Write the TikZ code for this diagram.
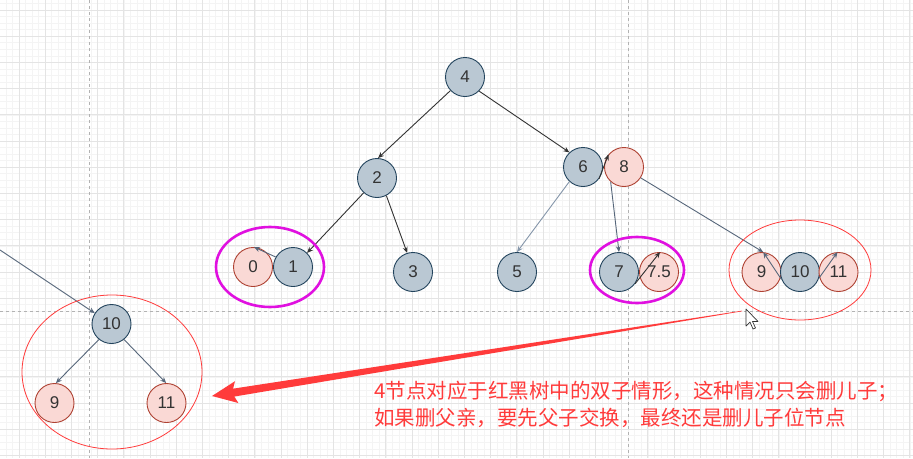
\documentclass[tikz,border=0pt]{standalone}
\usepackage{fontspec}
\setmainfont{Liberation Sans}
\newfontfamily\cjk{Noto Sans CJK SC}
\usetikzlibrary{arrows.meta}
\definecolor{bnode}{HTML}{BAC8D3}
\definecolor{bline}{HTML}{23445D}
\definecolor{rnode}{HTML}{FAD9D5}
\definecolor{rline}{HTML}{AE4132}
\definecolor{mag}{HTML}{E010E0}
\definecolor{redc}{HTML}{FF3B3B}
\definecolor{edgedark}{HTML}{333333}
\definecolor{edgeslate}{HTML}{56667A}
\definecolor{edgelight}{HTML}{8596AA}
\definecolor{minorg}{HTML}{F4F4F4}
\definecolor{majorg}{HTML}{E4E4E4}
\definecolor{txtc}{HTML}{333333}
\tikzset{
  bn/.style={circle, minimum size=39pt, inner sep=0pt, fill=bnode, draw=bline, line width=0.9pt, text=txtc, font=\fontsize{17}{17}\selectfont},
  rn/.style={circle, minimum size=39pt, inner sep=0pt, fill=rnode, draw=rline, line width=0.9pt, text=txtc, font=\fontsize{17}{17}\selectfont},
  ed/.style={draw=edgedark, line width=0.9pt, -{Stealth[length=6pt,width=5pt]}},
  es/.style={draw=edgeslate, line width=0.9pt, -{Stealth[length=6pt,width=5pt]}},
  el/.style={draw=edgelight, line width=0.9pt, -{Stealth[length=6pt,width=5pt]}},
  magring/.style={draw=mag, line width=2.6pt},
  redring/.style={draw=redc, line width=0.8pt},
  minorline/.style={draw=minorg, line width=0.6pt},
  majorline/.style={draw=majorg, line width=0.8pt},
  guide/.style={draw=black!30, line width=0.7pt, dash pattern=on 3pt off 3pt}
}
\begin{document}
\begin{tikzpicture}[x=1pt,y=-1pt]
\useasboundingbox[fill=white] (0,0) rectangle (913,458);
% grid
\foreach \k in {-3,...,137} {\draw[minorline] ({19+\k*6.55},0) -- ({19+\k*6.55},458);}
\foreach \k in {-2,...,69} {\draw[minorline] (0,{10+\k*6.55}) -- (913,{10+\k*6.55});}
\foreach \k in {-1,...,34} {\draw[majorline] ({19+\k*26.2},0) -- ({19+\k*26.2},458);}
\foreach \k in {0,...,17} {\draw[majorline] (0,{10+\k*26.2}) -- (913,{10+\k*26.2});}
\draw[guide] (89,0) -- (89,458);
\draw[guide] (628,0) -- (628,458);
\draw[guide] (0,311) -- (913,311);

% nodes
\node[bn] (n4) at (465,77) {4};
\node[bn] (n2) at (377,178) {2};
\node[bn] (n6) at (583,167) {6};
\node[rn] (n8) at (624,167) {8};
\node[rn] (n0) at (253,267) {0};
\node[bn] (n1) at (293,267) {1};
\node[bn] (n3) at (413,272) {3};
\node[bn] (n5) at (517,272) {5};
\node[bn] (n7) at (619,272) {7};
\node[rn] (n75) at (659,272) {7.5};
\node[rn] (n9) at (761.5,272) {9};
\node[bn] (n10) at (800,272) {10};
\node[rn] (n11) at (838.5,272) {11};
\node[bn] (b10) at (111.5,324) {10};
\node[rn] (b9) at (54.5,403) {9};
\node[rn] (b11) at (166.5,403) {11};

% edges
\draw[ed] (n4.223) -- (n2.87);
\draw[ed] (n4.315) -- (n6.133);
\draw[ed] (n2.228) -- (n1.45);
\draw[ed] (n2.298) -- (n3.107);
\draw[es] (n1.150) -- (n0.87);
\draw[el] (n6.227) -- (n5.90);
\draw[ed] (n6.323) -- (n8.141);
\draw[es] (n8.228) -- (n7.90);
\draw[ed] (n7.324) -- (n75.87);
\draw[es] (n8.327) -- (n9.85);
\draw[es] (n10.202) -- (n9.85);
\draw[es] (n10.342) -- (n11.93);
\coordinate (lft) at (0,250);
\draw[es] (lft) -- (b10.147);
\draw[es] (b10.231) -- (b9.86);
\draw[es] (b10.309) -- (b11.91);

% rings
\draw[magring] (270,267) ellipse [x radius=54, y radius=40];
\draw[magring] (637,270) ellipse [x radius=47, y radius=33];
\draw[redring] (800,270) ellipse [x radius=71, y radius=50];
\draw[redring] (112,372) ellipse [x radius=90, y radius=77];

% big arrow
\fill[redc] (741.95,310.7) -- (233.1,388.65) -- (235,381.2) -- (212,396) -- (238.4,403) -- (234.3,396.55) -- (742.05,311.3) -- cycle;

% cursor
\draw[fill=white, draw=black!80, line width=0.7pt, line join=round] (746,309) -- (746,326) -- (750,322) -- (753,329) -- (755.5,328) -- (752.5,321.5) -- (758,321.5) -- cycle;

% text
\node[anchor=north west, text=redc, align=left, inner sep=0pt, font=\cjk\fontsize{20.5}{27}\selectfont] (txt) at (374,381) {4节点对应于红黑树中的双子情形，这种情况只会删儿子；\\如果删父亲，要先父子交换，最终还是删儿子位节点};
\end{tikzpicture}
\end{document}
